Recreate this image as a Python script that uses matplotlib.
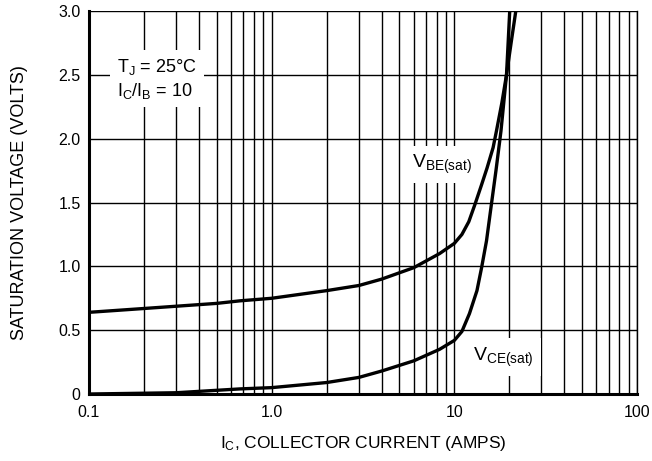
import matplotlib
matplotlib.use("Agg")
import matplotlib.pyplot as plt
from matplotlib.ticker import FixedLocator, NullFormatter, NullLocator

plt.rcParams['font.family'] = ['Liberation Sans', 'DejaVu Sans']
plt.rcParams['mathtext.default'] = 'regular'

# collector current (A) and saturation voltages (V)
ic_be = [0.1, 0.2, 0.5, 0.67, 1.0, 2.0, 3.0, 4.0, 6.0, 8.3, 10.0, 11.0, 12.0, 13.0, 14.1, 15.1, 16.3, 17.0, 18.2, 19.3, 20.5, 21.7]
vbe = [0.64, 0.67, 0.71, 0.73, 0.75, 0.81, 0.85, 0.90, 0.99, 1.10, 1.18, 1.25, 1.35, 1.49, 1.64, 1.77, 1.93, 2.06, 2.28, 2.5, 2.76, 3.0]

ic_ce = [0.1, 0.3, 0.67, 1.0, 2.0, 3.0, 4.0, 6.0, 8.3, 10.0, 11.0, 12.1, 13.3, 14.1, 15.0, 15.9, 16.9, 18.0, 19.3, 19.7, 20.1]
vce = [0.0, 0.01, 0.04, 0.05, 0.09, 0.13, 0.18, 0.26, 0.35, 0.42, 0.49, 0.63, 0.81, 0.99, 1.20, 1.47, 1.75, 2.06, 2.5, 2.75, 3.0]

x_ticks = [0.1, 1.0, 10, 100]
x_labels = ['0.1', '1.0', '10', '100']
y_ticks = [0, 0.5, 1.0, 1.5, 2.0, 2.5, 3.0]
y_labels = ['0', '0.5', '1.0', '1.5', '2.0', '2.5', '3.0']

fig = plt.figure(figsize=(6.52, 4.61), dpi=100)
ax = fig.add_axes([0.1365, 0.1453, 0.8405, 0.8307])

ax.set_xscale('log')
ax.set_xlim(0.1, 100)
ax.set_ylim(0, 3.0)

# grid lines on every decade subdivision
minor = [m * d for d in (0.1, 1, 10) for m in range(2, 10)]
ax.xaxis.set_major_locator(FixedLocator(x_ticks))
ax.xaxis.set_minor_locator(FixedLocator(minor))
ax.xaxis.set_minor_formatter(NullFormatter())
ax.set_xticklabels(x_labels)
ax.set_yticks(y_ticks)
ax.set_yticklabels(y_labels)
ax.yaxis.set_minor_locator(NullLocator())
ax.grid(True, which='both', axis='x', color='black', lw=1.0)
ax.grid(True, which='major', axis='y', color='black', lw=1.0)
ax.tick_params(which='both', length=0, labelsize=11.5)
ax.tick_params(axis='x', pad=8)
ax.tick_params(axis='y', pad=6)

ax.spines['top'].set_visible(False)
ax.spines['right'].set_linewidth(1.0)
ax.spines['left'].set_linewidth(2.2)
ax.spines['bottom'].set_linewidth(2.2)

ax.plot(ic_be, vbe, color='black', lw=2.4, solid_capstyle='butt')
ax.plot(ic_ce, vce, color='black', lw=2.4, solid_capstyle='butt')

box = dict(facecolor='white', edgecolor='none', pad=5)
ax.text(0.142, 2.47, '$T_J$ = 25°C\n$I_C/I_B$ = 10', fontsize=13, ha='left', va='center',
        linespacing=1.25, bbox=box, zorder=5)
ax.text(5.9, 1.80, '$V_{BE(sat)}$', fontsize=14, ha='left', va='center', bbox=box, zorder=5)
ax.text(12.7, 0.29, '$V_{CE(sat)}$', fontsize=14, ha='left', va='center', bbox=box, zorder=5)

ax.set_xlabel('$I_C$, COLLECTOR CURRENT (AMPS)', fontsize=12.5, labelpad=10)
ax.set_ylabel('SATURATION VOLTAGE (VOLTS)', fontsize=13, labelpad=22)

fig.savefig('out.png', dpi=100)
